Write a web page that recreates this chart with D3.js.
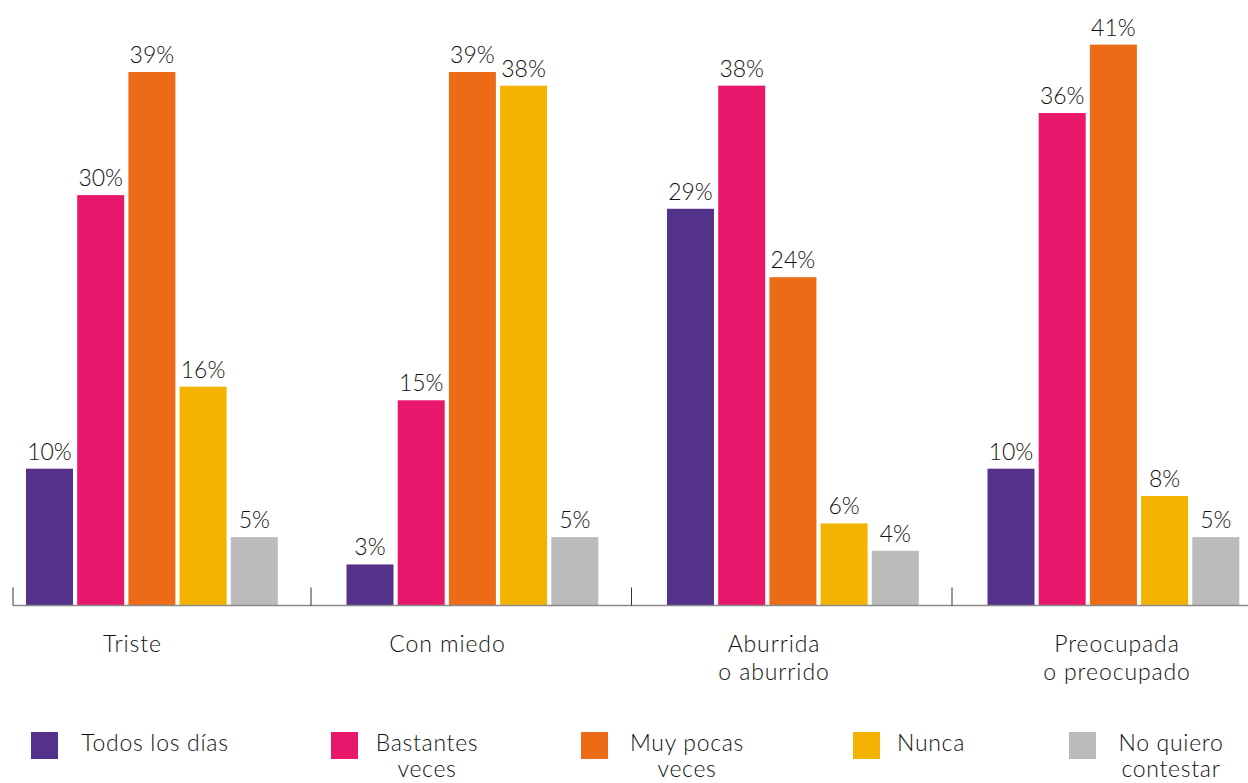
<!DOCTYPE html>
<html>
<head>
<meta charset="utf-8">
<script src="https://cdn.jsdelivr.net/npm/d3@7"></script>
<style>
  html, body { margin: 0; padding: 0; background: #fff; }
  svg { display: block; }
  text { font-family: Lato, "Open Sans", sans-serif; font-weight: 300; fill: #111; }
</style>
</head>
<body>
<svg id="chart" width="1248" height="783"></svg>
<script>
// Emotions asked about (category labels, one or two lines each)
const categories = ["Triste", "Con miedo", "Aburrida o aburrido", "Preocupada o preocupado"];
const categoryLines = [["Triste"], ["Con miedo"], ["Aburrida", "o aburrido"], ["Preocupada", "o preocupado"]];

// Answer options (series)
const series = ["Todos los días", "Bastantes veces", "Muy pocas veces", "Nunca", "No quiero contestar"];
const seriesLines = [["Todos los días"], ["Bastantes", "veces"], ["Muy pocas", "veces"], ["Nunca"], ["No quiero", "contestar"]];

// Percentages per answer, in category order
const todosLosDias = [10, 3, 29, 10];
const bastantesVeces = [30, 15, 38, 36];
const muyPocasVeces = [39, 39, 24, 41];
const nunca = [16, 38, 6, 8];
const noQuieroContestar = [5, 5, 4, 5];

const seriesValues = [todosLosDias, bastantesVeces, muyPocasVeces, nunca, noQuieroContestar];
const colors = ["#54318a", "#e8176b", "#ec6b16", "#f4b300", "#bbbbbb"];

// ---- layout ----
const W = 1248, H = 783;
const baseY = 605.5;
const svg = d3.select("#chart");

const x0 = d3.scaleBand().domain(categories).range([-9.5, 1272.5]).paddingInner(0).paddingOuter(0);
const x1 = d3.scaleBand().domain(series).range([35.5, 287.3]).paddingInner(0.082).paddingOuter(0);
const y = d3.scaleLinear().domain([0, 45]).range([baseY, baseY - 45 * 13.68]);

// Bars
const groups = svg.append("g").selectAll("g")
  .data(categories)
  .join("g")
  .attr("transform", d => `translate(${x0(d)},0)`);

const cells = groups.selectAll("g.cell")
  .data((c, ci) => series.map((s, si) => ({ s, si, v: seriesValues[si][ci] })))
  .join("g").attr("class", "cell");

cells.append("rect")
  .attr("x", d => x1(d.s))
  .attr("y", d => y(d.v))
  .attr("width", x1.bandwidth())
  .attr("height", d => baseY - y(d.v))
  .attr("fill", d => colors[d.si]);

cells.append("text")
  .attr("x", d => x1(d.s) + x1.bandwidth() / 2)
  .attr("y", d => y(d.v) - 9)
  .attr("text-anchor", "middle")
  .attr("font-size", 23)
  .text(d => d.v + "%");

// Baseline axis with group separators
const axisG = svg.append("g");
axisG.append("line")
  .attr("x1", 13).attr("x2", W)
  .attr("y1", baseY).attr("y2", baseY)
  .attr("stroke", "#8a8a8a").attr("stroke-width", 1.5);
const tickXs = categories.map(c => Math.max(13, x0(c)));
axisG.selectAll("line.tick")
  .data(tickXs)
  .join("line").attr("class", "tick")
  .attr("x1", d => d).attr("x2", d => d)
  .attr("y1", baseY - 18).attr("y2", baseY)
  .attr("stroke", "#333").attr("stroke-width", 1);

// Category labels
const labelCenters = [132.5, 447.5, 774, 1117];
svg.append("g").selectAll("text")
  .data(categories)
  .join("text")
  .attr("x", (d, i) => labelCenters[i])
  .attr("y", 652)
  .attr("text-anchor", "middle")
  .attr("font-size", 23)
  .attr("letter-spacing", 0.9)
  .each(function(d, i) {
    d3.select(this).selectAll("tspan")
      .data(categoryLines[i])
      .join("tspan")
      .attr("x", labelCenters[i])
      .attr("dy", (t, k) => k === 0 ? 0 : 28)
      .text(t => t);
  });

// Legend
const legendSquareX = [31, 331, 581, 853, 1069];
const legendTextCenter = [155, 427, 687, 931, 1171];
const legend = svg.append("g");
legend.selectAll("rect")
  .data(series)
  .join("rect")
  .attr("x", (d, i) => legendSquareX[i])
  .attr("y", 732)
  .attr("width", 27).attr("height", 27)
  .attr("fill", (d, i) => colors[i]);
legend.selectAll("text")
  .data(series)
  .join("text")
  .attr("x", (d, i) => legendTextCenter[i])
  .attr("y", 751)
  .attr("text-anchor", "middle")
  .attr("font-size", 23)
  .attr("letter-spacing", 0.7)
  .each(function(d, i) {
    d3.select(this).selectAll("tspan")
      .data(seriesLines[i])
      .join("tspan")
      .attr("x", legendTextCenter[i])
      .attr("dy", (t, k) => k === 0 ? 0 : 26)
      .text(t => t);
  });
</script>
</body>
</html>
